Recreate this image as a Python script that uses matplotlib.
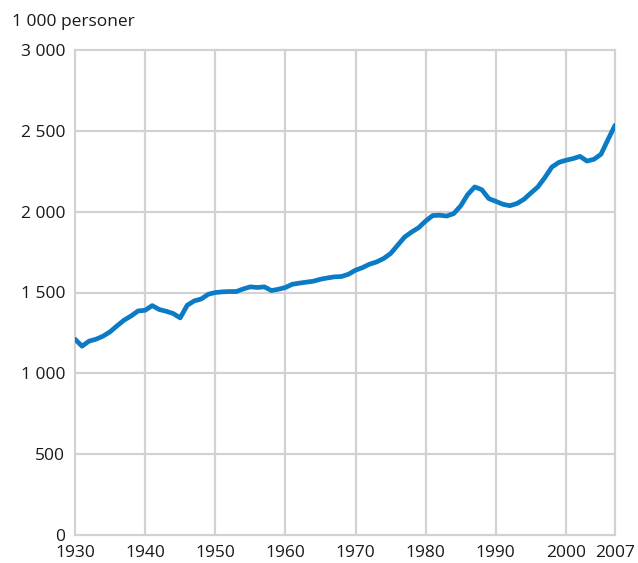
import matplotlib.pyplot as plt

# Persons (thousands)
years = list(range(1930, 2008))
persons = [
    1211, 1168, 1199, 1211, 1230, 1257, 1294, 1329, 1355, 1386,
    1390, 1419, 1395, 1384, 1370, 1343, 1421, 1448, 1460, 1489,
    1500, 1504, 1506, 1506, 1522, 1535, 1531, 1535, 1512, 1520,
    1531, 1551, 1558, 1564, 1570, 1582, 1590, 1597, 1599, 1613,
    1638, 1654, 1675, 1689, 1710, 1741, 1792, 1843, 1874, 1901,
    1942, 1976, 1978, 1973, 1988, 2036, 2106, 2153, 2136, 2081,
    2064, 2046, 2037, 2050, 2076, 2115, 2153, 2211, 2276, 2305,
    2318, 2328, 2342, 2313, 2324, 2355, 2446, 2534,
]
xticks = [1930, 1940, 1950, 1960, 1970, 1980, 1990, 2000, 2007]
yticks = [0, 500, 1000, 1500, 2000, 2500, 3000]
ylabels = ['0', '500', '1 000', '1 500', '2 000', '2 500', '3 000']

plt.rcParams['font.family'] = ['Open Sans', 'DejaVu Sans']
text_color = '#1a1a1a'
grid_color = '#d2d2d2'

fig = plt.figure(figsize=(6.38, 5.63), dpi=100)
ax = fig.add_axes([75 / 638, 28 / 563, 540 / 638, 485 / 563])

ax.plot(years, persons, color='#0a7bc4', linewidth=3.4,
        solid_capstyle='round', solid_joinstyle='round', zorder=3)

ax.set_xlim(1930, 2007)
ax.set_ylim(0, 3000)
ax.set_xticks(xticks)
ax.set_yticks(yticks)
ax.set_yticklabels(ylabels)
ax.tick_params(length=0, labelsize=12.5, colors=text_color)
ax.tick_params(axis='y', pad=7)
ax.tick_params(axis='x', pad=7)
# lift the "0" a touch so it clears the 1930 label
ax.get_yticklabels()[0].set_va('center_baseline')

ax.grid(True, color=grid_color, linewidth=1.6, zorder=0)
for s in ax.spines.values():
    s.set_visible(False)
ax.set_axisbelow(True)
for line in ax.get_xgridlines() + ax.get_ygridlines():
    line.set_clip_on(False)

fig.text(12 / 638, 1 - 22 / 563, '1 000 personer', fontsize=12.5,
         color=text_color, va='center', ha='left')

fig.savefig('out.png', dpi=100)
